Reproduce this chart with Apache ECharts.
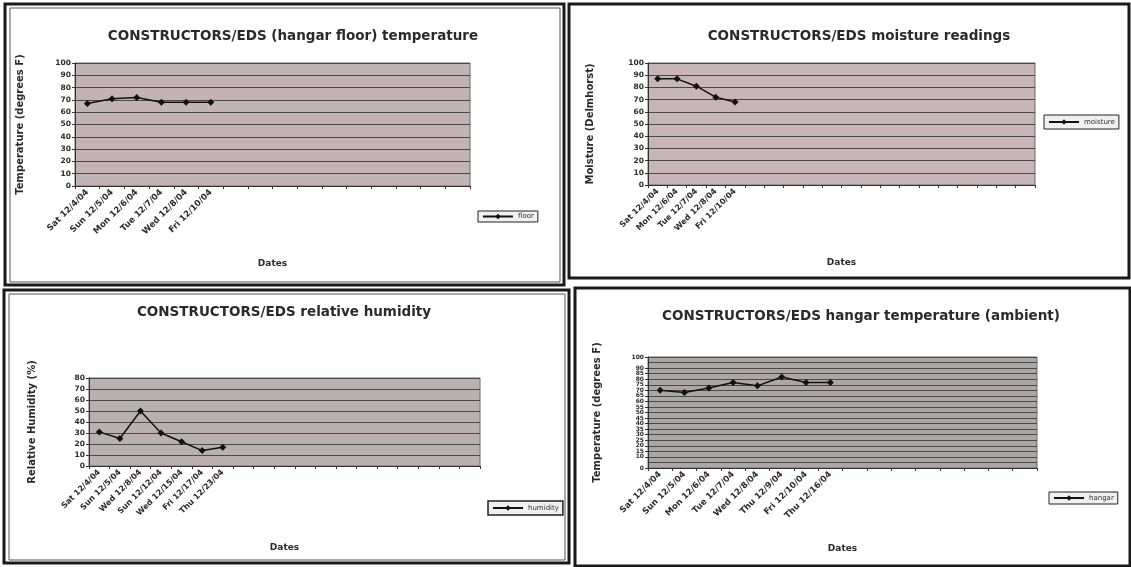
<!DOCTYPE html>
<html>
<head>
<meta charset="utf-8">
<script src="https://cdn.jsdelivr.net/npm/echarts@6/dist/echarts.min.js"></script>
<style>
html,body{margin:0;padding:0;background:#ffffff;}
#c{width:1131px;height:567px;}
</style>
</head>
<body>
<div id="c"></div>
<script>
// ---- data ----
const floorDates = ['Sat 12/4/04','Sun 12/5/04','Mon 12/6/04','Tue 12/7/04','Wed 12/8/04','Fri 12/10/04'];
const floorTemp = [67, 71, 72, 68, 68, 68];
const floorSlots = 16;

const moistureDates = ['Sat 12/4/04','Mon 12/6/04','Tue 12/7/04','Wed 12/8/04','Fri 12/10/04'];
const moistureVals = [87, 87, 81, 72, 68];
const moistureSlots = 20;

const humidityDates = ['Sat 12/4/04','Sun 12/5/04','Wed 12/8/04','Sun 12/12/04','Wed 12/15/04','Fri 12/17/04','Thu 12/23/04'];
const humidityVals = [31, 25, 50, 30, 22, 14, 17];
const humiditySlots = 19;

const hangarDates = ['Sat 12/4/04','Sun 12/5/04','Mon 12/6/04','Tue 12/7/04','Wed 12/8/04','Thu 12/9/04','Fri 12/10/04','Thu 12/16/04'];
const hangarTemp = [70, 68, 72, 77, 74, 82, 77, 77];
const hangarSlots = 16;

function pad(arr, n){ const a = arr.slice(); while(a.length < n) a.push(''); return a; }

const FONT = 'DejaVu Sans';
const dark = '#2a2a2a';

const grids = [
  {left:75, top:63, width:395, height:123, backgroundColor:'#c2b3b4'},
  {left:648, top:63, width:387, height:122, backgroundColor:'#c6b6b7'},
  {left:89, top:378, width:391, height:88, backgroundColor:'#b9b0b1'},
  {left:648, top:357, width:389, height:111, backgroundColor:'#aca6a7'}
].map(g => Object.assign({show:true, borderColor:'#6a6a6a', borderWidth:1}, g));

function xAx(i, cats, fs, gap){
  return {
    type:'category', gridIndex:i, data:cats, boundaryGap:true,
    name:'Dates', nameLocation:'middle', nameGap:gap,
    nameTextStyle:{fontFamily:FONT, fontWeight:'bold', fontSize:9, color:dark},
    axisLine:{lineStyle:{color:'#333', width:1}},
    axisTick:{show:true, length:3, lineStyle:{color:'#333'}},
    axisLabel:{interval:0, rotate:45, fontFamily:FONT, fontWeight:'bold', fontSize:fs, color:dark, margin:5}
  };
}
function yAx(i, max, step, name, gap, fs){
  return {
    type:'value', gridIndex:i, min:0, max:max, interval:step,
    name:name, nameLocation:'middle', nameGap:gap,
    nameTextStyle:{fontFamily:FONT, fontWeight:'bold', fontSize:10, color:dark},
    axisLine:{show:true, lineStyle:{color:'#333'}},
    axisTick:{show:true, length:3, lineStyle:{color:'#333'}},
    axisLabel:{fontFamily:FONT, fontWeight:'bold', fontSize:fs, color:dark, margin:4,
      showMinLabel:true, showMaxLabel:true, hideOverlap:false},
    splitLine:{show:true, lineStyle:{color:'#4a4a4a', width:1}}
  };
}
function ser(i, name, data){
  return {
    type:'line', name:name, xAxisIndex:i, yAxisIndex:i, data:data,
    symbol:'diamond', symbolSize:7, showSymbol:true,
    lineStyle:{color:'#111', width:1.5}, itemStyle:{color:'#111'},
    animation:false
  };
}
function leg(name, left, top, w, h, bw){
  return {
    data:[name], left:left, top:top, orient:'horizontal',
    itemWidth:30, itemHeight:7, itemGap:4,
    padding:[Math.max(1,(h-9)/2), 4], borderColor:'#222', borderWidth:bw,
    backgroundColor:'#f0f0f0',
    textStyle:{fontFamily:FONT, fontSize:7, color:'#333'}
  };
}
function ttl(text, x, y){
  return {text:text, left:x, top:y, textAlign:'center',
    textStyle:{fontFamily:FONT, fontWeight:'bold', fontSize:13.5, color:'#2a2a2a'}};
}

const option = {
  backgroundColor:'#ffffff',
  animation:false,
  title:[
    ttl('CONSTRUCTORS/EDS (hangar floor) temperature', 288, 24),
    ttl('CONSTRUCTORS/EDS moisture readings', 854, 24),
    ttl('CONSTRUCTORS/EDS relative humidity', 279, 300),
    ttl('CONSTRUCTORS/EDS hangar temperature (ambient)', 856, 304)
  ],
  legend:[
    leg('floor', 478, 211, 79, 13, 1),
    leg('moisture', 1044, 115, 83, 16, 1),
    leg('humidity', 488, 501, 79, 16, 1.5),
    leg('hangar', 1049, 492, 78, 14, 1)
  ],
  grid:grids,
  xAxis:[
    xAx(0, pad(floorDates, floorSlots), 8.5, 73),
    xAx(1, pad(moistureDates, moistureSlots), 8, 73),
    xAx(2, pad(humidityDates, humiditySlots), 8, 77),
    xAx(3, pad(hangarDates, hangarSlots), 8.5, 76)
  ],
  yAxis:[
    yAx(0, 100, 10, 'Temperature (degrees F)', 50, 7.5),
    yAx(1, 100, 10, 'Moisture (Delmhorst)', 53, 7.5),
    yAx(2, 80, 10, 'Relative Humidity (%)', 52, 7.5),
    yAx(3, 100, 5, 'Temperature (degrees F)', 46, 6)
  ],
  series:[
    ser(0, 'floor', floorTemp),
    ser(1, 'moisture', moistureVals),
    ser(2, 'humidity', humidityVals),
    ser(3, 'hangar', hangarTemp)
  ],
  graphic:[
    {type:'rect', shape:{x:5, y:4, width:559, height:281}, style:{fill:'none', stroke:'#1a1a1a', lineWidth:3}, silent:true},
    {type:'rect', shape:{x:10, y:8, width:550, height:274}, style:{fill:'none', stroke:'#555', lineWidth:1}, silent:true},
    {type:'rect', shape:{x:569, y:4, width:560, height:274}, style:{fill:'none', stroke:'#1a1a1a', lineWidth:3}, silent:true},
    {type:'rect', shape:{x:4, y:290, width:565, height:273}, style:{fill:'none', stroke:'#1a1a1a', lineWidth:3}, silent:true},
    {type:'rect', shape:{x:9, y:294, width:556, height:266}, style:{fill:'none', stroke:'#555', lineWidth:1}, silent:true},
    {type:'rect', shape:{x:575, y:288, width:555, height:278}, style:{fill:'none', stroke:'#1a1a1a', lineWidth:3}, silent:true}
  ]
};

const chart = echarts.init(document.getElementById('c'));
chart.setOption(option);
</script>
</body>
</html>
